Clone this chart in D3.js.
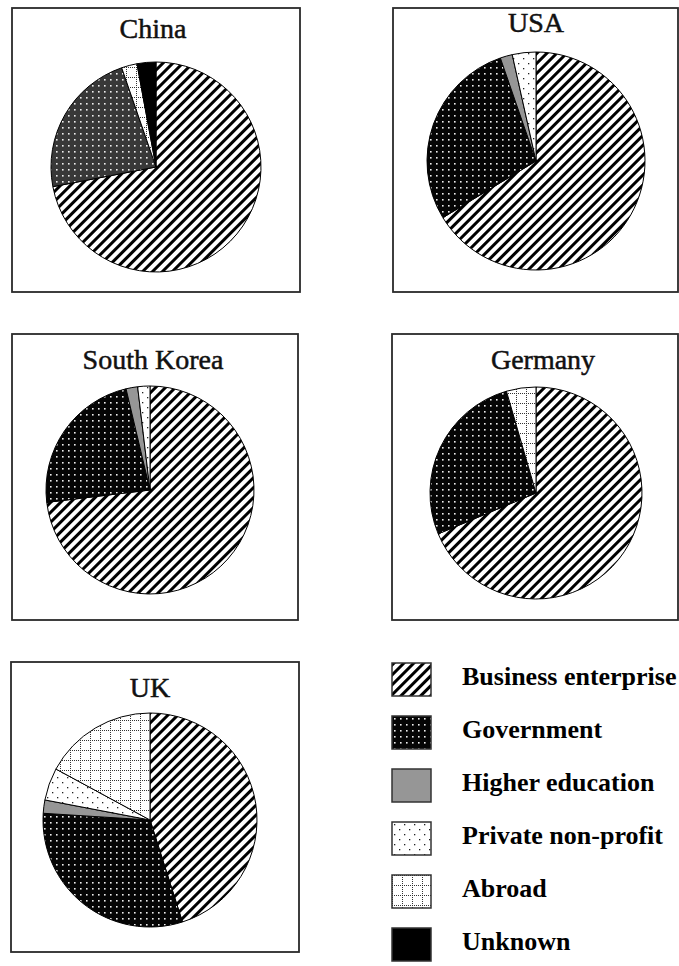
<!DOCTYPE html>
<html>
<head>
<meta charset="utf-8">
<script src="https://cdn.jsdelivr.net/npm/d3@7"></script>
<style>
  body { margin: 0; background: #fff; }
  svg { display: block; }
</style>
</head>
<body>
<svg id="chart" width="679" height="966"></svg>
<script>
// R&D funding by source (% of total)
var categories = ["Business enterprise", "Government", "Higher education",
                  "Private non-profit", "Abroad", "Unknown"];
var countries = ["China", "USA", "South Korea", "Germany", "UK"];

var chinaShares   = [72.0, 22.7, 0,   0,   2.4,  2.9];
var usaShares     = [66.3, 28.4, 1.8, 3.5, 0,    0];
var koreaShares   = [73.1, 23.2, 1.8, 1.9, 0,    0];
var germanyShares = [68.7, 26.8, 0,   0,   4.5,  0];
var ukShares      = [45.1, 30.9, 2.0, 4.9, 17.1, 0];

var shares = [chinaShares, usaShares, koreaShares, germanyShares, ukShares];

// panel layout: frame, title baseline, pie centre and radius
var panels = [
    {box: [12, 8, 288, 284],   tx: 153, ty: 38,  cx: 156, cy: 167, r: 105},
    {box: [393, 8, 285, 284],  tx: 536, ty: 32,  cx: 536, cy: 161, r: 109},
    {box: [12, 334, 286, 286], tx: 153, ty: 369, cx: 150, cy: 490, r: 104},
    {box: [392, 334, 286, 286],tx: 543, ty: 369, cx: 536, cy: 493, r: 106},
    {box: [11, 662, 288, 290], tx: 150, ty: 697, cx: 150, cy: 820, r: 107}
];

var svg = d3.select("#chart");
var defs = svg.append("defs");

// --- fill patterns ---
var p;
p = defs.append("pattern").attr("id", "pat-business")
    .attr("patternUnits", "userSpaceOnUse").attr("width", 7).attr("height", 7)
    .attr("patternTransform", "rotate(45)");
p.append("rect").attr("width", 7).attr("height", 7).attr("fill", "#fff");
p.append("rect").attr("width", 3).attr("height", 7).attr("fill", "#000");

function govPattern(id, bg) {
    var g = defs.append("pattern").attr("id", id)
        .attr("patternUnits", "userSpaceOnUse").attr("width", 6).attr("height", 6);
    g.append("rect").attr("width", 6).attr("height", 6).attr("fill", bg);
    g.append("rect").attr("x", 2).attr("y", 2).attr("width", 1.6).attr("height", 1.6).attr("fill", "#eee");
}
govPattern("pat-gov", "#050505");
govPattern("pat-gov-dark", "#383838");

p = defs.append("pattern").attr("id", "pat-private")
    .attr("patternUnits", "userSpaceOnUse").attr("width", 10).attr("height", 10);
p.append("rect").attr("width", 10).attr("height", 10).attr("fill", "#fff");
p.append("rect").attr("x", 2).attr("y", 2).attr("width", 1.3).attr("height", 1.3).attr("fill", "#222");
p.append("rect").attr("x", 7).attr("y", 7).attr("width", 1.3).attr("height", 1.3).attr("fill", "#222");

p = defs.append("pattern").attr("id", "pat-abroad")
    .attr("patternUnits", "userSpaceOnUse").attr("width", 10).attr("height", 10);
p.append("rect").attr("width", 10).attr("height", 10).attr("fill", "#fff");
p.append("path").attr("d", "M0,0.5H10M0.5,0V10")
    .attr("stroke", "#333").attr("stroke-width", 1).attr("stroke-dasharray", "1,1");

var fills = ["url(#pat-business)", "url(#pat-gov)", "#969696",
             "url(#pat-private)", "url(#pat-abroad)", "#000"];
var color = d3.scaleOrdinal().domain(categories).range(fills);

// --- pies ---
var pie = d3.pie().sort(null).value(function(d) { return d.value; });

countries.forEach(function(name, i) {
    var L = panels[i];
    var g = svg.append("g").attr("class", "panel");

    g.append("rect")
        .attr("x", L.box[0]).attr("y", L.box[1])
        .attr("width", L.box[2]).attr("height", L.box[3])
        .attr("fill", "#fff").attr("stroke", "#2a2a2a").attr("stroke-width", 1.8);

    g.append("text")
        .attr("x", L.tx).attr("y", L.ty)
        .attr("text-anchor", "middle")
        .attr("font-family", "'Liberation Serif', 'Times New Roman', serif")
        .attr("font-size", 28)
        .attr("fill", "#111")
        .attr("stroke", "#111").attr("stroke-width", 0.5)
        .text(name);

    var rows = categories.map(function(c, k) { return {cat: c, value: shares[i][k]}; })
        .filter(function(d) { return d.value > 0; });

    var arc = d3.arc().innerRadius(0).outerRadius(L.r);

    g.append("g").attr("transform", "translate(" + L.cx + "," + L.cy + ")")
        .selectAll("path")
        .data(pie(rows))
        .enter().append("path")
        .attr("d", arc)
        .attr("fill", function(d) {
            // China's government slice is drawn in dark grey
            if (name === "China" && d.data.cat === "Government") return "url(#pat-gov-dark)";
            return color(d.data.cat);
        })
        .attr("stroke", "#000").attr("stroke-width", 1);
});

// --- legend ---
var ly = d3.scalePoint().domain(categories).range([663, 928]);

var leg = svg.append("g").attr("class", "legend")
    .selectAll("g").data(categories).enter().append("g")
    .attr("transform", function(d) { return "translate(392," + ly(d) + ")"; });

leg.append("rect")
    .attr("width", 39).attr("height", 33)
    .attr("fill", function(d) { return color(d); })
    .attr("stroke", "#333").attr("stroke-width", 1.5);

leg.append("text")
    .attr("x", 70).attr("y", 22)
    .attr("font-family", "'Liberation Serif', 'Times New Roman', serif")
    .attr("font-weight", "bold")
    .attr("font-size", 26)
    .attr("fill", "#000")
    .text(function(d) { return d; });
</script>
</body>
</html>
